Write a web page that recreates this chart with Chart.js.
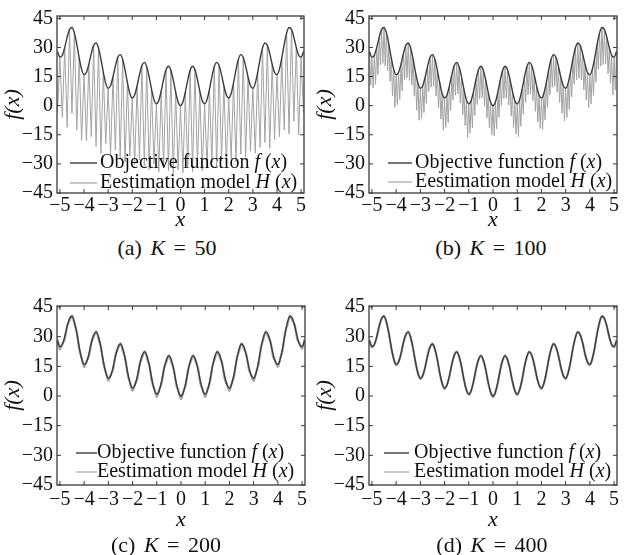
<!DOCTYPE html>
<html><head><meta charset="utf-8">
<script src="https://cdn.jsdelivr.net/npm/chart.js@4.4.1/dist/chart.umd.min.js"></script>
<style>
html,body{margin:0;padding:0;background:#fff;}
body{width:624px;height:555px;position:relative;overflow:hidden;font-family:"Liberation Serif","Times New Roman",serif;color:#111;}
canvas{position:absolute;}
.cap{position:absolute;font-size:22px;word-spacing:3px;white-space:nowrap;transform:translate(-50%,-50%);}
</style></head><body>
<canvas id="ca" width="312" height="233" style="left:0;top:0"></canvas>
<canvas id="cb" width="312" height="233" style="left:312px;top:0"></canvas>
<canvas id="cc" width="312" height="243" style="left:0;top:290px"></canvas>
<canvas id="cd" width="312" height="243" style="left:312px;top:290px"></canvas>
<div class="cap" style="left:167px;top:248px">(a) <i>K</i> = 50</div>
<div class="cap" style="left:491px;top:248px">(b) <i>K</i> = 100</div>
<div class="cap" style="left:166px;top:545px">(c) <i>K</i> = 200</div>
<div class="cap" style="left:492px;top:545px">(d) <i>K</i> = 400</div>
<script>
// ---- data ----
const xTicks = [-5, -4, -3, -2, -1, 0, 1, 2, 3, 4, 5];
const yTicks = [-45, -30, -15, 0, 15, 30, 45];
const gridStart = -5.1;      // first sample x
const stepCoarse = 0.1;      // sample spacing for f, K=50, K=200, K=400
const stepFine = 0.05;       // sample spacing for K=100

const objectiveF = [27.9, 25.0, 25.9, 30.0, 35.2, 39.3, 40.3, 37.5, 31.6, 24.6,
  18.7, 16.0, 17.1, 21.4, 26.8, 31.1, 32.3, 29.7, 24.0, 17.2,
  11.5, 9.0, 10.3, 14.8, 20.4, 24.9, 26.3, 23.9, 18.4, 11.8,
  6.3, 4.0, 5.5, 10.2, 16.0, 20.7, 22.3, 20.1, 14.8, 8.4,
  3.1, 1.0, 2.7, 7.6, 13.6, 18.5, 20.3, 18.3, 13.2, 7.0,
  1.9, 0.0,
  1.9, 7.0, 13.2, 18.3, 20.3, 18.5, 13.6, 7.6, 2.7, 1.0,
  3.1, 8.4, 14.8, 20.1, 22.3, 20.7, 16.0, 10.2, 5.5, 4.0,
  6.3, 11.8, 18.4, 23.9, 26.3, 24.9, 20.4, 14.8, 10.3, 9.0,
  11.5, 17.2, 24.0, 29.7, 32.3, 31.1, 26.8, 21.4, 17.1, 16.0,
  18.7, 24.6, 31.6, 37.5, 40.3, 39.3, 35.2, 30.0, 25.9, 25.0, 27.9];

const estimateK50 = [-3.0, 25.0, -6.0, 30.0, -11.2, 39.3, -4.0, 37.5, -12.5, 24.6,
  -17.8, 16.0, -18.2, 21.4, -16.0, 31.1, -21.0, 29.7, -24.5, 17.2,
  -19.5, 9.0, -25.8, 14.8, -23.0, 24.9, -27.5, 23.9, -29.0, 11.8,
  -26.0, 4.0, -30.5, 10.2, -28.0, 20.7, -31.0, 20.1, -33.0, 8.4,
  -30.0, 1.0, -34.0, 7.6, -31.5, 18.5, -33.5, 18.3, -35.0, 7.0,
  -33.0, 0.0,
  -34.5, 7.0, -32.0, 18.3, -34.0, 18.5, -31.0, 7.6, -33.5, 1.0,
  -32.0, 8.4, -29.5, 20.1, -31.5, 20.7, -28.5, 10.2, -30.0, 4.0,
  -27.5, 11.8, -29.0, 23.9, -25.0, 24.9, -26.5, 14.8, -23.5, 9.0,
  -24.5, 17.2, -21.5, 29.7, -19.0, 31.1, -22.0, 21.4, -17.5, 16.0,
  -16.0, 24.6, -12.5, 37.5, -14.5, 39.3, -8.0, 30.0, -15.0, 25.0, -4.0];

const estimateK100 = [27.9, 10.5,
  25.0, 9.0, 25.9, 11.0, 30.0, 16.0, 35.2, 21.0, 39.3, 21.8, 40.3, 20.5, 37.5, 18.0, 31.6, 12.5, 24.6, 5.0,
  18.7, -0.8, 16.0, 0.5, 17.1, 3.2, 21.4, 7.6, 26.8, 13.5, 31.1, 14.4, 32.3, 13.0, 29.7, 10.7, 24.0, 4.9,
  17.2, -2.4, 11.5, -7.5, 9.0, -6.6, 10.3, -3.5, 14.8, 1.2, 20.4, 7.3, 24.9, 9.6, 26.3, 9.9, 23.9, 5.0,
  18.4, -1.2, 11.8, -7.0, 6.3, -12.6, 4.0, -11.2, 5.5, -8.8, 10.2, -2.5, 16.0, 2.9, 20.7, 5.4, 22.3, 6.1,
  20.1, 1.3, 14.8, -4.7, 8.4, -10.2, 3.1, -16.5, 1.0, -14.2, 2.7, -11.5, 7.6, -5.0, 13.6, 0.6, 18.5, 3.4,
  20.3, 4.1, 18.3, -0.3, 13.2, -6.2, 7.0, -11.5, 1.9, -15.0,
  0.0, -15.5, 1.9, -11.9, 7.0, -5.9, 13.2, 0.0, 18.3, 3.7, 20.3, 3.8, 18.5, 0.3, 13.6, -5.4, 7.6, -11.2,
  2.7, -14.6, 1.0, -16.0, 3.1, -10.6, 8.4, -4.4, 14.8, 1.7, 20.1, 5.6, 22.3, 5.9, 20.7, 2.6, 16.0, -2.9,
  10.2, -8.5, 5.5, -11.7, 4.0, -12.3, 6.3, -7.3, 11.8, -0.9, 18.4, 5.4, 23.9, 9.5, 26.3, 10.0, 24.9, 6.9,
  20.4, 1.6, 14.8, -3.8, 10.3, -7.8, 9.0, -6.2, 11.5, -2.0, 17.2, 4.6, 24.0, 11.1, 29.7, 13.4, 32.3, 14.1,
  31.1, 13.2, 26.8, 8.1, 21.4, 2.9, 17.1, -1.0, 16.0, 0.9, 18.7, 5.3, 24.6, 12.1, 31.6, 18.8, 37.5, 20.3,
  40.3, 21.2, 39.3, 21.5, 35.2, 16.6, 30.0, 11.6, 25.9, 5.5, 25.0,
  8.0, 27.9];

const estimateK200 = [28.6, 23.6, 26.5, 28.8, 35.6, 38.2, 40.6, 36.4, 32.1, 23.5,
  19.2, 14.6, 17.6, 20.2, 27.3, 30.0, 32.7, 28.6, 24.5, 16.1,
  12.0, 7.7, 10.8, 13.6, 20.9, 23.8, 26.6, 22.7, 18.9, 10.6,
  6.8, 2.7, 6.0, 9.0, 16.5, 19.6, 22.6, 18.9, 15.3, 7.2,
  3.6, -0.4, 3.2, 6.4, 14.1, 17.3, 20.6, 17.1, 13.7, 5.8,
  2.4, -1.6,
  2.4, 5.7, 13.7, 17.2, 20.6, 17.4, 14.1, 6.3, 3.2, -0.5,
  3.6, 7.1, 15.3, 18.9, 22.6, 19.5, 16.5, 8.9, 6.0, 2.6,
  6.8, 10.5, 18.9, 22.7, 26.6, 23.7, 20.9, 13.5, 10.8, 7.6,
  12.0, 16.0, 24.5, 28.5, 32.7, 29.9, 27.3, 20.1, 17.6, 14.7,
  19.2, 23.4, 32.1, 36.3, 40.6, 38.1, 35.7, 28.7, 26.4, 23.8, 28.5];

const estimateK400 = [28.2, 24.6, 26.2, 29.6, 35.4, 38.9, 40.5, 37.1, 31.8, 24.2,
  18.9, 15.5, 17.3, 21.0, 27.0, 30.7, 32.5, 29.3, 24.2, 16.8,
  11.7, 8.5, 10.5, 14.4, 20.6, 24.5, 26.5, 23.5, 18.6, 11.4,
  6.5, 3.5, 5.7, 9.8, 16.2, 20.3, 22.5, 19.7, 15.0, 8.0,
  3.3, 0.5, 2.9, 7.2, 13.8, 18.1, 20.5, 17.9, 13.4, 6.6,
  2.1, -0.6,
  2.1, 6.6, 13.4, 17.9, 20.5, 18.1, 13.8, 7.2, 2.9, 0.4,
  3.3, 8.0, 15.0, 19.7, 22.5, 20.3, 16.2, 9.8, 5.7, 3.5,
  6.5, 11.4, 18.6, 23.5, 26.5, 24.5, 20.6, 14.4, 10.5, 8.5,
  11.7, 16.8, 24.2, 29.3, 32.5, 30.7, 27.0, 21.0, 17.3, 15.5,
  18.9, 24.2, 31.8, 37.1, 40.5, 38.9, 35.4, 29.6, 26.2, 24.6, 28.2];

// ---- rendering ----
const COL_F = '#3c3c3c', COL_H = '#a3a3a3', TXT = '#111';
const FONT = '"Liberation Serif","Times New Roman",serif';
const toPts = (arr, step) => arr.map((y, i) => ({x: +(gridStart + i * step).toFixed(3), y}));
const minus = v => String(v).replace('-', '\u2212');

const framePlugin = {
  id: 'frame',
  afterDraw(chart, args, o) {
    const {ctx, chartArea: a, scales: {x, y}} = chart;
    ctx.save();
    ctx.strokeStyle = '#3a3a3a'; ctx.lineWidth = 1.3;
    ctx.strokeRect(a.left, a.top, a.right - a.left, a.bottom - a.top);
    ctx.lineWidth = 1;
    ctx.beginPath();
    xTicks.forEach(v => { const p = x.getPixelForValue(v);
      ctx.moveTo(p, a.bottom); ctx.lineTo(p, a.bottom - 4);
      ctx.moveTo(p, a.top); ctx.lineTo(p, a.top + 4); });
    yTicks.forEach(v => { const p = y.getPixelForValue(v);
      ctx.moveTo(a.left, p); ctx.lineTo(a.left + 4, p);
      ctx.moveTo(a.right, p); ctx.lineTo(a.right - 4, p); });
    ctx.stroke();
    // legend
    const L = o.leg;
    const rows = [
      {c: COL_F, w: 1.4, parts: [['Objective function ', ''], ['f', 'italic '], [' (', ''], ['x', 'italic '], [')', '']]},
      {c: COL_H, w: 1.2, parts: [['Eestimation model ', ''], ['H', 'italic '], [' (', ''], ['x', 'italic '], [')', '']]}
    ];
    rows.forEach((r, i) => {
      const yy = a.bottom + L.rows[i];
      ctx.strokeStyle = r.c; ctx.lineWidth = r.w;
      ctx.beginPath(); ctx.moveTo(a.left + L.line[0], yy); ctx.lineTo(a.left + L.line[1], yy); ctx.stroke();
      let xx = a.left + L.text;
      ctx.fillStyle = TXT; ctx.textBaseline = 'middle'; ctx.textAlign = 'left';
      r.parts.forEach(([t, st]) => { ctx.font = st + '20px ' + FONT; ctx.fillText(t, xx, yy); xx += ctx.measureText(t).width; });
    });
    ctx.restore();
  }
};

function makePanel(id, hData, hStep, smoothH, p) {
  new Chart(document.getElementById(id), {
    type: 'line',
    data: {datasets: [
      {data: toPts(objectiveF, stepCoarse), borderColor: COL_F, borderWidth: 1.4, pointRadius: 0, cubicInterpolationMode: 'monotone'},
      {data: toPts(hData, hStep), borderColor: COL_H, borderWidth: smoothH ? 2.2 : 1, pointRadius: 0,
       cubicInterpolationMode: smoothH ? 'monotone' : 'default', tension: 0}
    ]},
    options: {
      responsive: false, animation: false, events: [],
      layout: {padding: {left: 0, right: p.right, top: p.top, bottom: 0}},
      plugins: {legend: {display: false}, tooltip: {enabled: false}, frame: {leg: p.leg}},
      scales: {
        x: {type: 'linear', min: p.xmin, max: p.xmax,
            afterBuildTicks: s => { s.ticks = xTicks.map(v => ({value: v})); },
            afterFit: s => { s.height = p.xh; },
            grid: {display: false, drawTicks: false}, border: {display: false},
            ticks: {autoSkip: false, maxRotation: 0, minRotation: 0, padding: p.tp, color: TXT,
                    font: {family: FONT, size: 20}, callback: v => minus(v)},
            title: {display: true, text: 'x', color: TXT, padding: 0, font: {family: FONT, size: 22, style: 'italic'}}},
        y: {type: 'linear', min: -45, max: p.ymax,
            afterBuildTicks: s => { s.ticks = yTicks.map(v => ({value: v})); },
            afterFit: s => { s.width = 57; },
            grid: {display: false, drawTicks: false}, border: {display: false},
            ticks: {autoSkip: false, padding: 4, color: TXT, font: {family: FONT, size: 20}, callback: v => minus(v)},
            title: {display: true, text: 'f(x)', color: TXT, padding: 0, font: {family: FONT, size: 22, style: 'italic'}}}
      }
    },
    plugins: [framePlugin]
  });
}

makePanel('ca', estimateK50, stepCoarse, false,
  {right: 8, top: 7, xh: 40, tp: 1, xmin: -5.12, xmax: 5.12, ymax: 46.2, leg: {line: [13, 40], text: 43, rows: [-30, -10]}});
makePanel('cb', estimateK100, stepFine, false,
  {right: 7, top: 7, xh: 40, tp: 1, xmin: -5.12, xmax: 5.12, ymax: 46.2, leg: {line: [19, 43], text: 46, rows: [-30, -11]}});
makePanel('cc', estimateK200, stepCoarse, true,
  {right: 7, top: 10, xh: 48, tp: 3, xmin: -5.12, xmax: 5.12, ymax: 45.5, leg: {line: [19, 40], text: 40, rows: [-32, -13]}});
makePanel('cd', estimateK400, stepCoarse, true,
  {right: 7, top: 10, xh: 48, tp: 3, xmin: -5.12, xmax: 5.12, ymax: 45.5, leg: {line: [15, 40], text: 45, rows: [-32, -13]}});
</script>
</body></html>
